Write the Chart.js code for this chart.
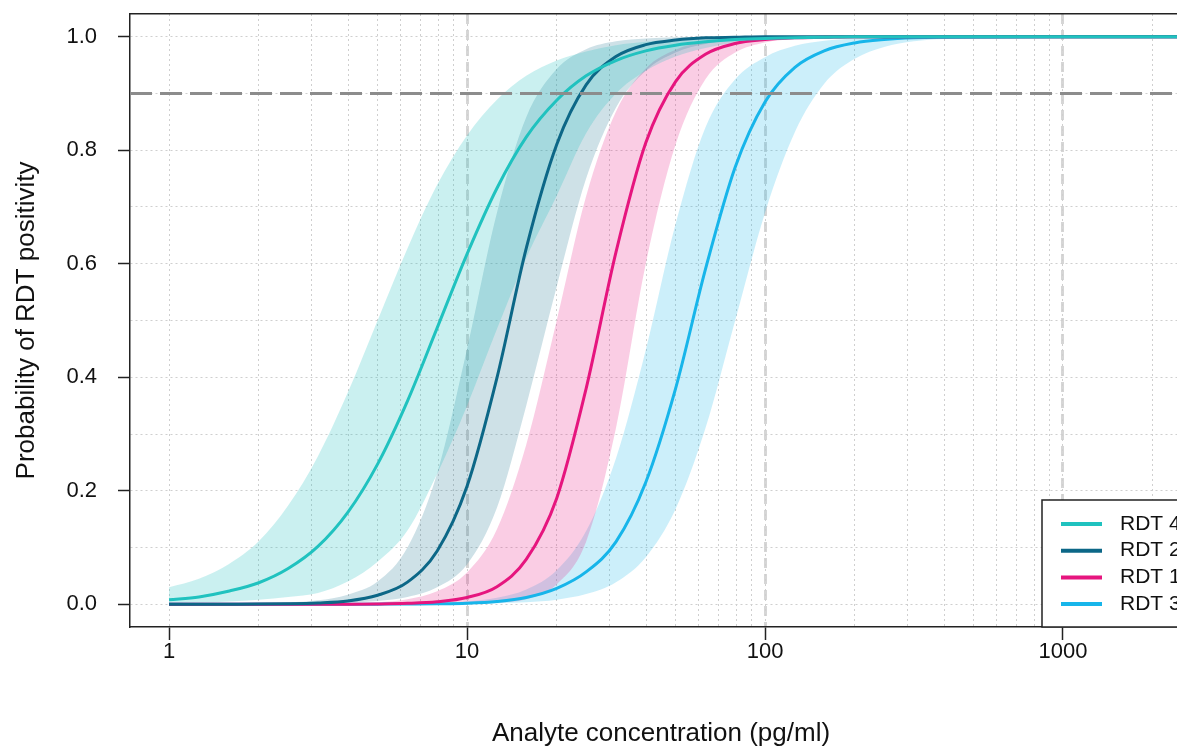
<!DOCTYPE html>
<html>
<head>
<meta charset="utf-8">
<title>RDT positivity curves</title>
<script src="https://cdn.jsdelivr.net/npm/chart.js@4.4.1/dist/chart.umd.min.js"></script>
<style>
  html, body { margin: 0; padding: 0; background: #fff; overflow: hidden; }
  #wrap { width: 1250px; height: 747px; }
</style>
</head>
<body>
<div id="wrap"><canvas id="curveChart" width="1250" height="747"></canvas></div>
<script>
// Concentrations (pg/ml), about 0.1 decade apart
const conc = [1, 1.26, 1.58, 2, 2.51, 3.16, 3.98, 5.01, 6.31, 7.94, 10, 12.6, 15.8, 20, 25.1, 31.6, 39.8, 50.1, 63.1, 79.4, 100, 126, 158, 200, 251, 316, 398, 1000, 3000];

// RDT 4
const rdt4   = [0.008, 0.013, 0.023, 0.038, 0.063, 0.102, 0.162, 0.247, 0.358, 0.487, 0.617, 0.733, 0.823, 0.888, 0.931, 0.958, 0.975, 0.985, 0.991, 0.995, 0.997, 0.998, 0.999, 1, 1, 1, 1, 1, 1];
const rdt4Hi = [0.03, 0.045, 0.07, 0.111, 0.174, 0.261, 0.373, 0.5, 0.627, 0.739, 0.826, 0.889, 0.931, 0.958, 0.974, 0.985, 0.991, 0.995, 0.997, 0.998, 0.999, 1, 1, 1, 1, 1, 1, 1, 1];
const rdt4Lo = [0.002, 0.003, 0.005, 0.008, 0.013, 0.02, 0.04, 0.075, 0.13, 0.23, 0.35, 0.485, 0.61, 0.72, 0.83, 0.9, 0.94, 0.965, 0.98, 0.99, 0.995, 0.998, 0.999, 1, 1, 1, 1, 1, 1];
// RDT 2
const rdt2   = [0, 0, 0.0002, 0.0004, 0.001, 0.0025, 0.006, 0.016, 0.039, 0.094, 0.208, 0.399, 0.627, 0.81, 0.915, 0.965, 0.986, 0.994, 0.998, 0.999, 1, 1, 1, 1, 1, 1, 1, 1, 1];
const rdt2Hi = [0, 0.0001, 0.0003, 0.0008, 0.003, 0.007, 0.017, 0.04, 0.1, 0.231, 0.45, 0.69, 0.858, 0.943, 0.978, 0.992, 0.997, 0.999, 1, 1, 1, 1, 1, 1, 1, 1, 1, 1, 1];
const rdt2Lo = [0, 0, 0, 0, 0.0005, 0.001, 0.003, 0.006, 0.013, 0.03, 0.07, 0.17, 0.35, 0.56, 0.75, 0.875, 0.94, 0.972, 0.987, 0.994, 0.998, 0.999, 1, 1, 1, 1, 1, 1, 1];
// RDT 1
const rdt1   = [0, 0, 0, 0, 0, 0.0001, 0.0002, 0.0006, 0.0017, 0.0045, 0.012, 0.031, 0.079, 0.187, 0.38, 0.62, 0.813, 0.921, 0.969, 0.988, 0.995, 0.998, 0.999, 1, 1, 1, 1, 1, 1];
const rdt1Hi = [0, 0, 0.0001, 0.0002, 0.0003, 0.0005, 0.0014, 0.0035, 0.009, 0.023, 0.056, 0.132, 0.281, 0.5, 0.719, 0.868, 0.944, 0.977, 0.991, 0.996, 0.999, 1, 1, 1, 1, 1, 1, 1, 1];
const rdt1Lo = [0, 0, 0, 0, 0, 0, 0, 0, 0, 0.0005, 0.001, 0.003, 0.009, 0.035, 0.11, 0.31, 0.6, 0.81, 0.925, 0.972, 0.99, 0.996, 0.999, 1, 1, 1, 1, 1, 1];
// RDT 3
const rdt3   = [0, 0, 0, 0, 0, 0, 0, 0.0003, 0.0006, 0.001, 0.002, 0.005, 0.012, 0.028, 0.057, 0.11, 0.215, 0.38, 0.59, 0.77, 0.885, 0.946, 0.975, 0.989, 0.995, 0.998, 0.999, 1, 1];
const rdt3Hi = [0, 0, 0, 0, 0, 0, 0, 0.001, 0.002, 0.003, 0.005, 0.0114, 0.026, 0.06, 0.129, 0.257, 0.448, 0.67, 0.84, 0.925, 0.964, 0.984, 0.993, 0.997, 0.999, 1, 1, 1, 1];
const rdt3Lo = [0, 0, 0, 0, 0, 0, 0, 0, 0, 0, 0.001, 0.002, 0.0037, 0.0082, 0.018, 0.039, 0.083, 0.168, 0.31, 0.5, 0.69, 0.832, 0.917, 0.961, 0.982, 0.992, 0.996, 0.9998, 1];

const seriesNames = ["RDT 4", "RDT 2", "RDT 1", "RDT 3"];
const seriesMean = [rdt4, rdt2, rdt1, rdt3];
const seriesHi = [rdt4Hi, rdt2Hi, rdt1Hi, rdt3Hi];
const seriesLo = [rdt4Lo, rdt2Lo, rdt1Lo, rdt3Lo];

const threshold = 0.9;

// Axis ticks
const xLabelTicks = [1, 10, 100, 1000];
const xMinorTicks = [1, 2, 3, 4, 5, 6, 7, 8, 9, 10, 20, 30, 40, 50, 60, 70, 80, 90, 100, 200, 300, 400, 500, 600, 700, 800, 900, 1000, 2000];
const yTicks = [0, 0.1, 0.2, 0.3, 0.4, 0.5, 0.6, 0.7, 0.8, 0.9, 1.0];
const xMin = 0.7395, xMax = 2710;

// Colours
const lineColors = ["#20c2bf", "#0c6787", "#e6157e", "#17b5ea"];
const bandColors = ["rgba(32,194,191,0.24)", "rgba(12,103,135,0.2)", "rgba(230,21,126,0.21)", "rgba(23,181,234,0.22)"];

const isMajorY = v => Math.round(v * 10) % 2 === 0;
const tickFont = { family: "'Liberation Sans', Arial, sans-serif", size: 22 };
const titleFont = { family: "'Liberation Sans', Arial, sans-serif", size: 26, lineHeight: 1 };

// Datasets: bands (upper fills to lower), then lines, then the 0.9 line
const datasets = [];
seriesNames.forEach((name, i) => {
    datasets.push({
        label: name + " upper",
        data: seriesHi[i],
        fill: "+1",
        backgroundColor: bandColors[i],
        borderWidth: 0,
        pointRadius: 0,
        cubicInterpolationMode: "monotone",
        order: 3,
    });
    datasets.push({
        label: name + " lower",
        data: seriesLo[i],
        fill: false,
        borderWidth: 0,
        pointRadius: 0,
        cubicInterpolationMode: "monotone",
        order: 3,
    });
});
seriesNames.forEach((name, i) => {
    datasets.push({
        label: name,
        data: seriesMean[i],
        fill: false,
        borderColor: lineColors[i],
        borderWidth: 3,
        pointRadius: 0,
        cubicInterpolationMode: "monotone",
        order: 2,
    });
});
datasets.push({
    label: "threshold",
    data: [{ x: xMin, y: threshold }, { x: xMax, y: threshold }],
    borderColor: "#8c8c8c",
    borderWidth: 3,
    borderDash: [22, 8],
    pointRadius: 0,
    fill: false,
    order: 1,
});

// Legend box in the bottom right corner of the plot
const rdtLegend = {
    id: "rdtLegend",
    afterDraw(chart) {
        const { ctx, chartArea } = chart;
        const w = 150, h = 127;
        const x0 = chartArea.right - w, y0 = chartArea.bottom - h;
        ctx.save();
        ctx.fillStyle = "#fff";
        ctx.fillRect(x0, y0, w, h);
        ctx.strokeStyle = "#222";
        ctx.lineWidth = 1.5;
        ctx.strokeRect(x0, y0, w, h);
        ctx.font = "21px 'Liberation Sans', Arial, sans-serif";
        ctx.textBaseline = "middle";
        seriesNames.forEach((name, i) => {
            const y = y0 + 24 + i * 26.7;
            ctx.strokeStyle = lineColors[i];
            ctx.lineWidth = 4;
            ctx.beginPath();
            ctx.moveTo(x0 + 19, y);
            ctx.lineTo(x0 + 60, y);
            ctx.stroke();
            ctx.fillStyle = "#111";
            ctx.fillText(name, x0 + 78, y);
        });
        ctx.restore();
    },
};

const config = {
    type: "line",
    data: { labels: conc, datasets: datasets },
    options: {
        responsive: false,
        animation: false,
        devicePixelRatio: 1,
        layout: { padding: { top: 14, right: 58, left: 0, bottom: 0 } },
        plugins: { legend: { display: false }, tooltip: { enabled: false } },
        scales: {
            x: {
                type: "logarithmic",
                position: "bottom",
                bounds: "data",
                min: xMin,
                max: xMax,
                afterBuildTicks: s => { s.ticks = xLabelTicks.map(v => ({ value: v })); },
                afterFit: s => { s.height = 120; s.paddingLeft = 0; s.paddingRight = 0; },
                ticks: {
                    autoSkip: false,
                    maxRotation: 0,
                    padding: -1,
                    color: "#111",
                    font: tickFont,
                    callback: v => String(v),
                },
                grid: {
                    color: c => (c.tick && c.tick.value === 1 ? "rgba(0,0,0,0)" : "#d6d6d6"),
                    lineWidth: 3,
                    tickColor: "#222",
                    tickWidth: 1.5,
                    tickLength: 13,
                },
                border: { display: true, color: "#222", width: 1.5, dash: [10, 6] },
                title: {
                    display: true,
                    text: "Analyte concentration (pg/ml)",
                    color: "#111",
                    font: titleFont,
                    padding: { top: 0, bottom: 0 },
                },
            },
            xMinor: {
                type: "logarithmic",
                position: "bottom",
                bounds: "data",
                min: xMin,
                max: xMax,
                afterBuildTicks: s => { s.ticks = xMinorTicks.map(v => ({ value: v })); },
                afterFit: s => { s.height = 0; },
                ticks: { display: false },
                grid: { color: "#cfcfcf", lineWidth: 1, drawTicks: false },
                border: { display: false, dash: [2, 3] },
            },
            xTop: {
                type: "logarithmic",
                position: "top",
                bounds: "data",
                min: xMin,
                max: xMax,
                afterFit: s => { s.height = 0; },
                ticks: { display: false },
                grid: { display: false },
                border: { display: true, color: "#222", width: 1.5 },
            },
            y: {
                bounds: "data",
                min: -0.04,
                max: 1.04,
                afterBuildTicks: s => { s.ticks = yTicks.map(v => ({ value: v })); },
                afterFit: s => { s.width = 130; s.paddingTop = 0; s.paddingBottom = 0; },
                ticks: {
                    padding: 21,
                    color: "#111",
                    font: tickFont,
                    callback: v => (isMajorY(v) ? v.toFixed(1) : ""),
                },
                grid: {
                    color: "#cfcfcf",
                    lineWidth: 1,
                    tickLength: 12,
                    tickWidth: 1.5,
                    tickColor: c => (c.tick && isMajorY(c.tick.value) ? "#222" : "rgba(0,0,0,0)"),
                },
                border: { display: true, color: "#222", width: 1.5, dash: [2, 3] },
                title: {
                    display: true,
                    text: "Probability of RDT positivity",
                    color: "#111",
                    font: titleFont,
                    padding: { top: 14, bottom: 0 },
                },
            },
            yRight: {
                position: "right",
                bounds: "data",
                min: -0.04,
                max: 1.04,
                afterFit: s => { s.width = 0; },
                ticks: { display: false },
                grid: { display: false },
                border: { display: true, color: "#222", width: 1.5 },
            },
        },
    },
    plugins: [rdtLegend],
};

const curveChart = new Chart(document.getElementById("curveChart"), config);
</script>
</body>
</html>
